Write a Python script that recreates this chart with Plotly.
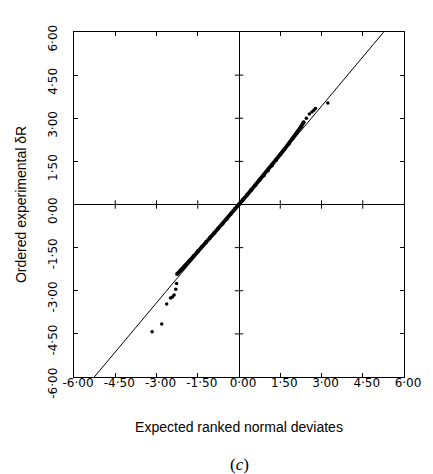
import plotly.graph_objects as go

# --- data ---
tick_vals = [-6.0, -4.5, -3.0, -1.5, 0.0, 1.5, 3.0, 4.5, 6.0]
tick_text = ["-6·00", "-4·50", "-3·00", "-1·50", "0·00", "1·50", "3·00", "4·50", "6·00"]

# dense body of ordered residuals (expected deviate, ordered dR)
body_x = [-2.25, -2.1, -1.95, -1.8, -1.65, -1.5, -1.35, -1.2, -1.05, -0.9, -0.75, -0.6,
          -0.45, -0.3, -0.15, 0.0, 0.15, 0.3, 0.45, 0.6, 0.75, 0.9, 1.05, 1.2, 1.35,
          1.5, 1.65, 1.8, 1.95, 2.1, 2.25, 2.35]
body_y = [-2.42, -2.28, -2.12, -1.96, -1.80, -1.63, -1.47, -1.31, -1.15, -0.99, -0.83, -0.67,
          -0.50, -0.33, -0.16, 0.0, 0.17, 0.34, 0.51, 0.68, 0.85, 1.01, 1.18, 1.36, 1.55,
          1.74, 1.92, 2.10, 2.30, 2.50, 2.70, 2.86]

# isolated tail points
tail_x = [-3.16, -2.81, -2.63, -2.49, -2.42, -2.36, -2.30, -2.27,
          2.45, 2.56, 2.65, 2.72, 2.78, 3.23]
tail_y = [-4.43, -4.16, -3.46, -3.25, -3.22, -3.15, -2.95, -2.75,
          3.00, 3.15, 3.22, 3.28, 3.34, 3.53]

# reference line
ref_slope = 1.14
ref_x = [-5.3, 5.26]
ref_y = [ref_slope * v for v in ref_x]

fig = go.Figure()

fig.add_trace(go.Scatter(x=ref_x, y=ref_y, mode="lines",
                         line=dict(color="black", width=1), hoverinfo="skip"))
fig.add_trace(go.Scatter(x=body_x, y=body_y, mode="lines+markers",
                         line=dict(color="black", width=3.8),
                         marker=dict(color="black", size=4)))
fig.add_trace(go.Scatter(x=tail_x, y=tail_y, mode="markers",
                         marker=dict(color="black", size=3.5)))

# small tick marks on the zero lines
inner = [v for v in tick_vals if v not in (-6.0, 0.0, 6.0)]
fig.add_trace(go.Scatter(x=inner, y=[0] * len(inner), mode="markers",
                         marker=dict(symbol="line-ns", size=6,
                                     line=dict(color="black", width=1)),
                         hoverinfo="skip"))
fig.add_trace(go.Scatter(x=[0] * len(inner), y=inner, mode="markers",
                         marker=dict(symbol="line-ew", size=6,
                                     line=dict(color="black", width=1)),
                         hoverinfo="skip"))

axis_common = dict(
    range=[-6, 6], tickvals=tick_vals, ticktext=tick_text,
    showgrid=False, zeroline=True, zerolinecolor="black", zerolinewidth=1,
    showline=True, linecolor="black", linewidth=1, mirror="ticks",
    ticks="inside", ticklen=4, tickcolor="black",
    tickfont=dict(family="DejaVu Sans", size=12, color="black"),
)

# the page body adds an 8px offset, so the figure is 8px smaller and shifted
fig.update_layout(
    width=425, height=466,
    margin=dict(l=60, r=24, t=24, b=97),
    paper_bgcolor="white", plot_bgcolor="white",
    showlegend=False,
    xaxis=dict(**axis_common, ticklabelstandoff=-5, ticklabelshift=4,
               title=dict(text="Expected ranked normal deviates",
                          font=dict(family="Liberation Sans", size=14, color="black"),
                          standoff=32)),
    yaxis=dict(**axis_common, tickangle=-90, ticklabelstandoff=11, ticklabelshift=8,
               title=dict(text="Ordered experimental δR",
                          font=dict(family="Liberation Sans", size=14, color="black"),
                          standoff=16)),
)

fig.add_annotation(text="(<i>c</i>)", xref="paper", yref="paper", x=0.5, y=-0.288,
                   showarrow=False,
                   font=dict(family="Liberation Serif", size=17, color="black"))

fig.write_html("out.html")
